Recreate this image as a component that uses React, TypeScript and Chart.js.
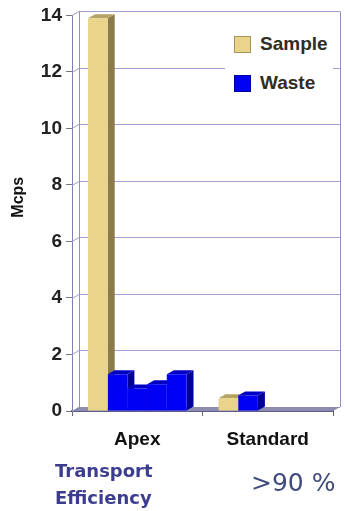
import React, { useEffect, useRef } from 'react';
import { Chart, registerables } from 'chart.js';

Chart.register(...registerables);

// ---- data ----
const categories = ['Apex', 'Standard'];
const seriesNames = ['Sample', 'Waste'];
const sampleValues = [13.9, 0.45];
const wasteRun1 = [1.3, 0.55];
const wasteRun2 = [0.8, null];
const wasteRun3 = [0.95, null];
const wasteRun4 = [1.3, null];
const yMin = 0;
const yMax = 14;
const yStep = 2;
const yTitle = 'Mcps';
const footLabel = ['Transport', 'Efficiency'];
const footValue = '>90 %';

// ---- styles ----
const W = 345;
const H = 511;
const DX = 7;
const DY = -4;
const TAN = { front: '#e9d48c', side: '#8a7a4c', top: '#b5a365' };
const BLUE = { front: '#0000f4', side: '#000098', top: '#0000c4' };
const GRID = '#a0a0d4';

const depthPlugin = {
  id: 'depth3d',
  beforeDatasetsDraw(chart: any) {
    const { ctx, chartArea: a, scales } = chart;
    const ys = scales.y;
    ctx.save();
    ctx.lineWidth = 1;
    // back wall grid lines with diagonal stubs on side wall
    ctx.strokeStyle = GRID;
    ys.ticks.forEach((t: any) => {
      const py = Math.round(ys.getPixelForValue(t.value)) + 0.5;
      ctx.beginPath();
      ctx.moveTo(a.left, py);
      ctx.lineTo(a.left + DX, py + DY);
      ctx.lineTo(a.right + DX, py + DY);
      ctx.stroke();
    });
    // back wall left edge and right edge
    ctx.strokeStyle = '#9090c0';
    ctx.beginPath();
    ctx.moveTo(Math.round(a.left + DX) + 0.5, a.top + DY);
    ctx.lineTo(Math.round(a.left + DX) + 0.5, a.bottom + DY);
    ctx.moveTo(Math.round(a.right + DX) + 0.5, a.top + DY);
    ctx.lineTo(Math.round(a.right + DX) + 0.5, a.bottom + DY);
    ctx.stroke();
    // floor
    ctx.fillStyle = '#8c8cb0';
    ctx.beginPath();
    ctx.moveTo(a.left, a.bottom);
    ctx.lineTo(a.left + DX, a.bottom + DY);
    ctx.lineTo(a.right + DX, a.bottom + DY);
    ctx.lineTo(a.right, a.bottom);
    ctx.closePath();
    ctx.fill();
    // bar side and top faces
    chart.data.datasets.forEach((ds: any, di: number) => {
      const meta = chart.getDatasetMeta(di);
      const pal = di === 0 ? TAN : BLUE;
      meta.data.forEach((bar: any, i: number) => {
        if (ds.data[i] == null) return;
        const p = bar.getProps(['x', 'y', 'base', 'width'], true);
        const l = p.x - p.width / 2;
        const r = p.x + p.width / 2;
        const top = Math.min(p.y, p.base);
        const base = Math.max(p.y, p.base);
        ctx.fillStyle = pal.side;
        ctx.beginPath();
        ctx.moveTo(r, top);
        ctx.lineTo(r + DX, top + DY);
        ctx.lineTo(r + DX, base + DY);
        ctx.lineTo(r, base);
        ctx.closePath();
        ctx.fill();
        ctx.fillStyle = pal.top;
        ctx.beginPath();
        ctx.moveTo(l, top);
        ctx.lineTo(l + DX, top + DY);
        ctx.lineTo(r + DX, top + DY);
        ctx.lineTo(r, top);
        ctx.closePath();
        ctx.fill();
      });
    });
    ctx.restore();
  },
  afterDraw(chart: any) {
    const { ctx, chartArea: a } = chart;
    ctx.save();
    ctx.fillStyle = '#111';
    ctx.font = 'bold 16px "Liberation Sans", Arial, sans-serif';
    ctx.textAlign = 'center';
    ctx.textBaseline = 'middle';
    ctx.translate(19, (a.top + a.bottom) / 2 - 16);
    ctx.rotate(-Math.PI / 2);
    ctx.fillText(yTitle, 0, 0);
    ctx.restore();
  },
};

export default function App() {
  const ref = useRef<HTMLCanvasElement | null>(null);

  useEffect(() => {
    const prevMargin = document.body.style.margin;
    document.body.style.margin = '0';
    if (!ref.current) return;
    const wasteSets = [wasteRun1, wasteRun2, wasteRun3, wasteRun4];
    const chart = new Chart(ref.current, {
      type: 'bar',
      data: {
        labels: categories,
        datasets: [
          {
            label: seriesNames[0],
            data: sampleValues,
            backgroundColor: TAN.front,
            borderWidth: 0,
            categoryPercentage: 0.755,
            barPercentage: 1,
          },
          ...wasteSets.map((d) => ({
            label: seriesNames[1],
            data: d,
            backgroundColor: BLUE.front,
            borderWidth: 0,
            categoryPercentage: 0.755,
            barPercentage: 1,
          })),
        ],
      } as any,
      options: {
        responsive: false,
        animation: false,
        events: [],
        layout: { padding: { top: 15, right: 12, bottom: 60, left: 0 } },
        plugins: { legend: { display: false }, tooltip: { enabled: false } },
        scales: {
          x: {
            offset: true,
            grid: {
              display: true,
              drawOnChartArea: false,
              tickLength: 5,
              tickColor: '#666',
              offset: true,
            },
            border: { color: '#5c5c8c', width: 2 },
            ticks: {
              color: '#111',
              padding: 12,
              font: { family: '"Liberation Sans", Arial, sans-serif', size: 19, weight: 'bold' },
            },
            afterFit(s: any) {
              s.height = 40;
            },
          },
          y: {
            min: yMin,
            max: yMax,
            ticks: {
              stepSize: yStep,
              padding: 4,
              color: '#222',
              font: { family: '"Liberation Sans", Arial, sans-serif', size: 19, weight: 'bold' },
            },
            grid: { drawOnChartArea: false, tickLength: 6, tickColor: '#777' },
            border: { color: '#8080b0', width: 1 },
            afterFit(s: any) {
              s.width = 72;
            },
          },
        },
      } as any,
      plugins: [depthPlugin],
    });
    return () => {
      chart.destroy();
      document.body.style.margin = prevMargin;
    };
  }, []);

  const swatch = (bg: string, border: string) => ({
    display: 'inline-block',
    width: 17,
    height: 17,
    background: bg,
    border: `1px solid ${border}`,
    boxSizing: 'border-box' as const,
    marginRight: 9,
    verticalAlign: 'middle',
  });
  const legendText = {
    font: 'bold 19px "Liberation Sans", Arial, sans-serif',
    color: '#2e2e22',
    verticalAlign: 'middle',
  };

  return (
    <div style={{ position: 'relative', width: W, height: H, background: '#fff', overflow: 'hidden' }}>
      <canvas ref={ref} width={W} height={H} style={{ position: 'absolute', left: 0, top: 0 }} />
      <div
        style={{
          position: 'absolute',
          left: 225,
          top: 24,
          width: 108,
          height: 76,
          background: '#fff',
        }}
      >
        <div style={{ position: 'absolute', left: 9, top: 9, whiteSpace: 'nowrap', lineHeight: '20px' }}>
          <span style={swatch(TAN.front, '#a8955e')} />
          <span style={legendText}>{seriesNames[0]}</span>
        </div>
        <div style={{ position: 'absolute', left: 9, top: 48, whiteSpace: 'nowrap', lineHeight: '20px' }}>
          <span style={swatch(BLUE.front, '#0000a0')} />
          <span style={legendText}>{seriesNames[1]}</span>
        </div>
      </div>
      <div
        style={{
          position: 'absolute',
          left: 55,
          top: 457,
          font: 'bold 18px "DejaVu Sans", Verdana, sans-serif',
          lineHeight: '27px',
          color: '#3d3d8f',
          whiteSpace: 'nowrap',
        }}
      >
        {footLabel[0]}
        <br />
        {footLabel[1]}
      </div>
      <div
        style={{
          position: 'absolute',
          left: 251,
          top: 468,
          font: '25px "DejaVu Sans", Verdana, sans-serif',
          lineHeight: '30px',
          color: '#3f4a7e',
          whiteSpace: 'nowrap',
        }}
      >
        {footValue}
      </div>
    </div>
  );
}
